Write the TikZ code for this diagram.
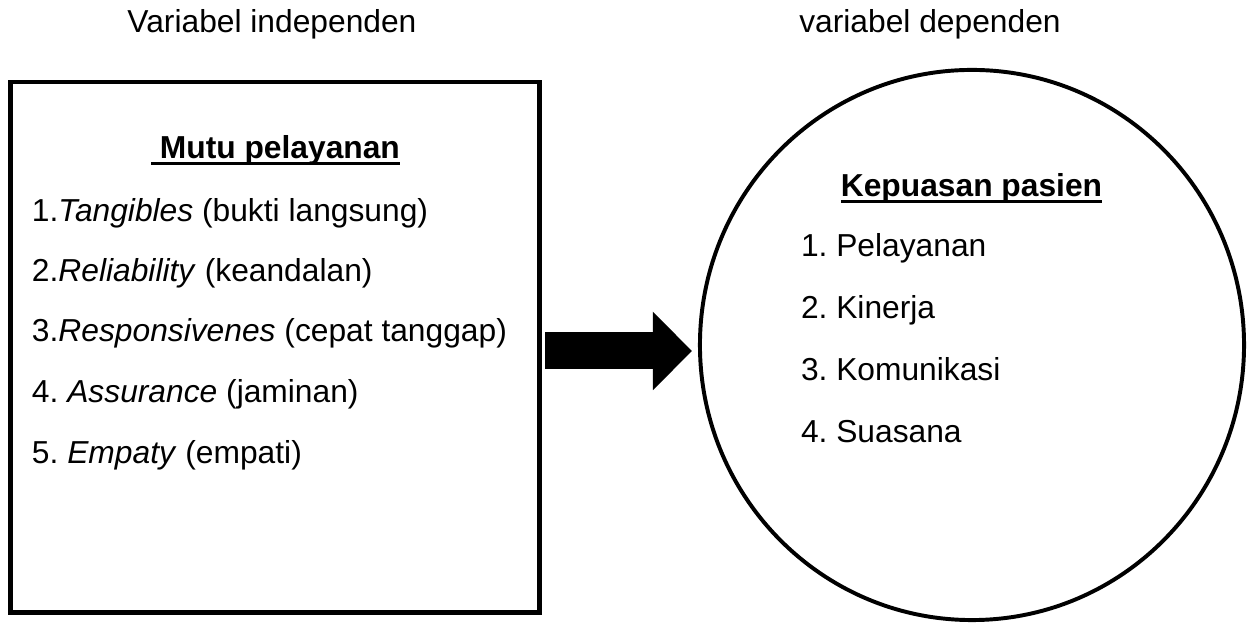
\documentclass[tikz,border=0pt]{standalone}
\usepackage{fontspec}
\setmainfont{Liberation Sans}
\usetikzlibrary{arrows.meta,shapes.geometric}
\frenchspacing
\newcommand\ulbox[1]{\setbox0=\hbox{#1}\rlap{\rule[-2.2pt]{\wd0}{1.1pt}}\box0}
\tikzset{
  txt/.style={font=\fontsize{12.1}{14}\selectfont,inner sep=0pt,outer sep=0pt},
  item/.style={txt,anchor=base west},
  bigarrow/.style={line width=14.1pt,-{Triangle[length=14.9pt,width=29pt]},shorten <=2.3pt}
}
\begin{document}
\begin{tikzpicture}[x=0.381pt,y=-0.381pt]
            \useasboundingbox (0,0) rectangle (1251,624);
            \node[txt,anchor=base] (indep) at (272,33) {Variabel independen};
            \node[txt,anchor=base] (dep) at (930,33) {variabel dependen};
            \node[draw,line width=1.9pt,minimum width=201.2pt,minimum height=202.3pt,inner sep=0pt,outer sep=0pt] (mutu) at (275,347.5) {};
            \node[draw,ellipse,line width=1.5pt,minimum width=207.3pt,minimum height=209.6pt,inner sep=0pt,outer sep=0pt] (puas) at (972,345) {};
            % isi kotak
            \node[txt,anchor=base] (mutuT) at (275.5,159) {\ulbox{\textbf{\ Mutu pelayanan}}};
            \node[item] (m1) at (32,222) {1.\textit{Tangibles} (bukti langsung)};
            \node[item] (m2) at (32,282) {2.\textit{Reliability} (keandalan)};
            \node[item] (m3) at (32,342) {3.\textit{Responsivenes} (cepat tanggap)};
            \node[item] (m4) at (32,403) {4. \textit{Assurance} (jaminan)};
            \node[item] (m5) at (32,464) {5. \textit{Empaty} (empati)};
            % isi lingkaran
            \node[txt,anchor=base] (puasT) at (971.5,197) {\ulbox{\textbf{Kepuasan pasien}}};
            \node[item] (p1) at (801,257) {1. Pelayanan};
            \node[item] (p2) at (801,319) {2. Kinerja};
            \node[item] (p3) at (801,381) {3. Komunikasi};
            \node[item] (p4) at (801,443) {4. Suasana};
            \coordinate (tip) at (692,351);
            \draw[bigarrow] (mutu.east |- tip) -- (tip);
        \end{tikzpicture}
\end{document}
